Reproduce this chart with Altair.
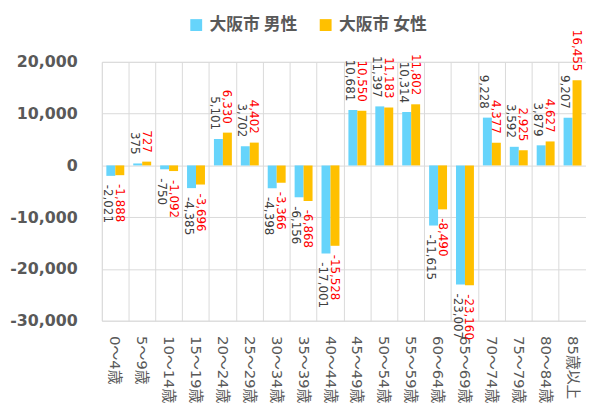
import altair as alt
import pandas as pd

categories = ["0～4歳", "5～9歳", "10～14歳", "15～19歳", "20～24歳", "25～29歳",
              "30～34歳", "35～39歳", "40～44歳", "45～49歳", "50～54歳", "55～59歳",
              "60～64歳", "65～69歳", "70～74歳", "75～79歳", "80～84歳", "85歳以上"]
series = ["大阪市 男性", "大阪市 女性"]
male = [-2021, 375, -750, -4385, 5101, 3702, -4398, -6156, -17001, 10681, 11397,
        10314, -11615, -23007, 9228, 3592, 3879, 9207]
female = [-1888, 727, -1092, -3696, 6330, 4402, -3366, -6868, -15528, 10550, 11183,
          11802, -8490, -23160, 4377, 2925, 4627, 16455]
y_ticks = [-30000, -20000, -10000, 0, 10000, 20000]

rows = []
for c, m, f in zip(categories, male, female):
    rows.append({"cat": c, "series": series[0], "value": m})
    rows.append({"cat": c, "series": series[1], "value": f})
df = pd.DataFrame(rows)

FONT = "DejaVu Sans, Noto Sans CJK JP"
GRID = "#D9D9D9"
TXT = "#595959"

x_enc = alt.X("cat:N", sort=categories, title=None,
              scale=alt.Scale(paddingInner=0, paddingOuter=0),
              axis=alt.Axis(labelAngle=90, labelAlign="left", labelBaseline="middle",
                            labelFontSize=15, labelColor=TXT, labelPadding=15,
                            labelOverlap=False, labelLimit=0, grid=True,
                            bandPosition=0, gridColor=GRID, ticks=False, domain=False,
                            labelFont=FONT))
xo_enc = alt.XOffset("series:N", sort=series,
                     scale=alt.Scale(paddingInner=0, paddingOuter=0.5))
y_enc = alt.Y("value:Q", title=None,
              scale=alt.Scale(domain=[-30000, 20000], nice=False),
              axis=alt.Axis(values=y_ticks, format=",d",
                            labelExpr="replace(datum.label, '\u2212', '-')",
                            labelFontSize=16, labelFontWeight="bold", labelColor=TXT,
                            labelPadding=25, ticks=False, domain=False,
                            gridColor=GRID, labelFont=FONT))

base = alt.Chart(df).transform_calculate(
    lbl="replace(format(datum.value, ',d'), '\u2212', '-')"
)

bars = base.mark_bar().encode(
    x=x_enc, xOffset=xo_enc, y=y_enc,
    color=alt.Color("series:N", sort=series,
                    scale=alt.Scale(domain=series, range=["#66D4FB", "#FFC000"]),
                    legend=alt.Legend(title=None, orient="none", direction="horizontal",
                                      legendX=87, legendY=-46, symbolType="square",
                                      symbolSize=144, symbolStrokeWidth=0,
                                      labelFontSize=17, labelFontWeight="bold",
                                      labelColor=TXT, labelFont="Noto Sans CJK JP",
                                      columnPadding=20, labelOffset=5)),
)


def text_layer(s, positive, color, dy):
    cond = f"datum.series == '{s}' && datum.value {'>=' if positive else '<'} 0"
    return base.transform_filter(cond).mark_text(
        angle=90, align="right" if positive else "left", baseline="middle",
        dx=-9 if positive else 9, dy=dy, fontSize=12, color=color, font=FONT,
    ).encode(x=x_enc, xOffset=xo_enc, y=y_enc, text="lbl:N")


layers = [bars,
          text_layer(series[0], True, "#404040", 3),
          text_layer(series[0], False, "#404040", 3),
          text_layer(series[1], True, "#FF0000", 0),
          text_layer(series[1], False, "#FF0000", 0)]

chart = alt.layer(*layers).properties(
    width=490, height=262,
    autosize=alt.AutoSizeParams(type="none"),
    padding={"left": 95, "top": 52, "right": 0, "bottom": 100},
).configure_view(stroke=GRID).configure(font=FONT)

chart.save("out.html", embed_options={"renderer": "svg", "actions": False})
